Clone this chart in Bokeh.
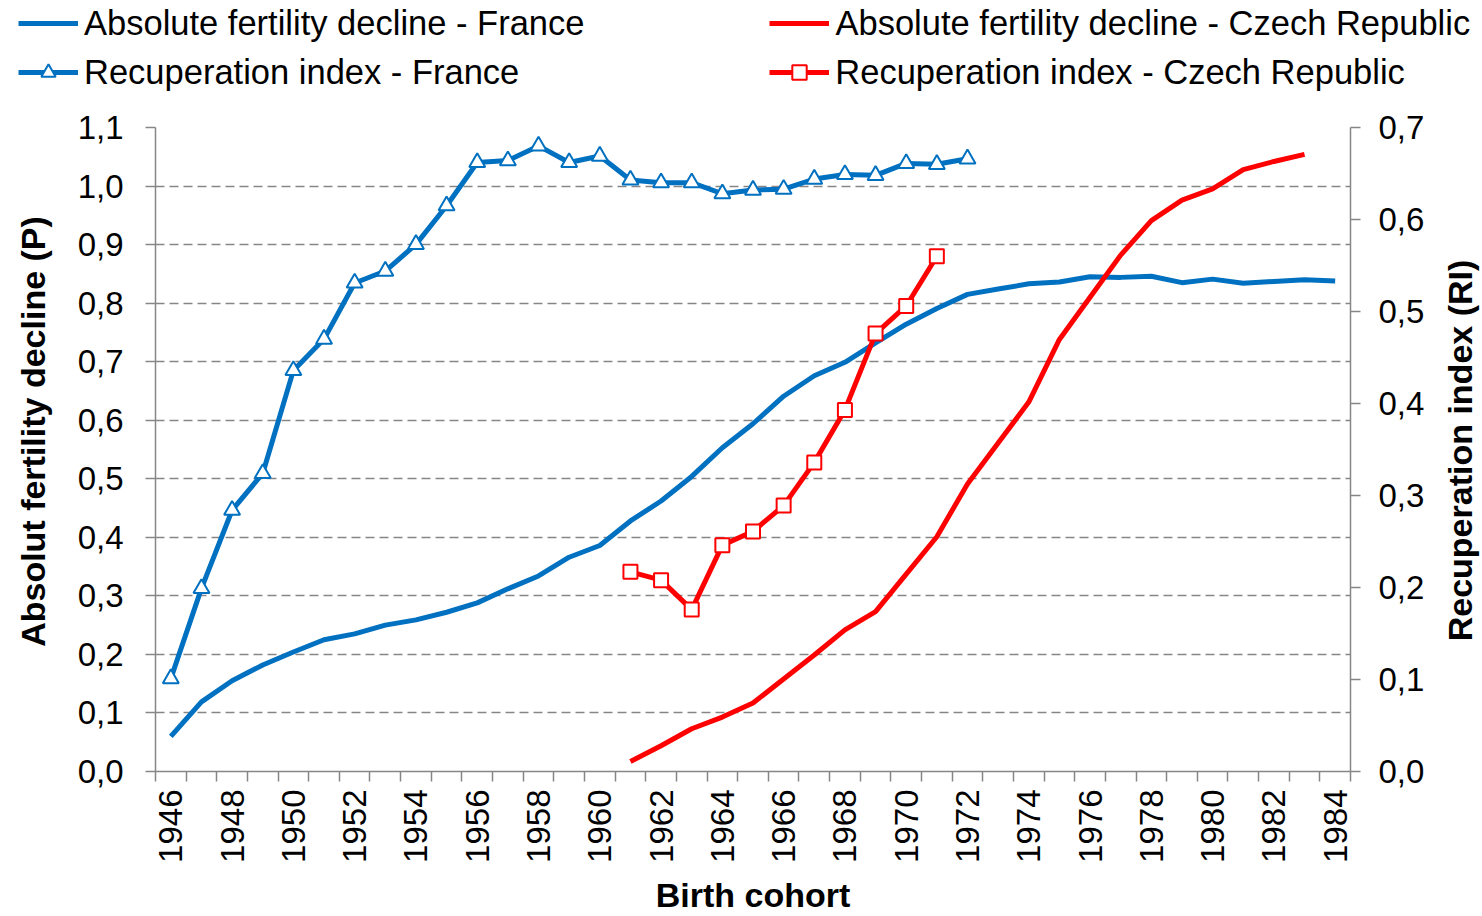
import math
from bokeh.plotting import figure
from bokeh.layouts import column, row
from bokeh.models import (Range1d, LinearAxis, FixedTicker, CustomJSTickFormatter,
                          Legend, LegendItem, ColumnDataSource, Label)
from bokeh.embed import file_html
from bokeh.resources import INLINE

# ---------------- data ----------------
years_afd_fr = list(range(1946, 1985))
afd_fr = [0.060, 0.119, 0.155, 0.182, 0.204, 0.225, 0.235, 0.250, 0.259, 0.272,
          0.288, 0.312, 0.334, 0.366, 0.386, 0.428, 0.462, 0.504, 0.553, 0.594,
          0.641, 0.676, 0.699, 0.732, 0.764, 0.791, 0.815, 0.824, 0.833, 0.836,
          0.845, 0.844, 0.846, 0.835, 0.841, 0.834, 0.837, 0.840, 0.838]

years_afd_cz = list(range(1961, 1984))
afd_cz = [0.017, 0.044, 0.073, 0.093, 0.117, 0.158, 0.199, 0.242, 0.273, 0.337,
          0.401, 0.491, 0.561, 0.631, 0.738, 0.810, 0.882, 0.941, 0.976, 0.995,
          1.028, 1.042, 1.054]

years_ri_fr = list(range(1946, 1973))
ri_fr = [0.101, 0.199, 0.284, 0.324, 0.436, 0.470, 0.531, 0.544, 0.573, 0.615,
         0.662, 0.664, 0.680, 0.662, 0.669, 0.643, 0.640, 0.640, 0.628, 0.632,
         0.633, 0.644, 0.649, 0.648, 0.661, 0.660, 0.666]

years_ri_cz = list(range(1961, 1972))
ri_cz = [0.217, 0.208, 0.176, 0.246, 0.261, 0.289, 0.336, 0.393, 0.476, 0.506, 0.560]

x_labels = list(range(1946, 1985, 2))
left_ticks = [round(i * 0.1, 1) for i in range(12)]
right_ticks = [round(i * 0.1, 1) for i in range(8)]

names = ["Absolute fertility decline - France",
         "Absolute fertility decline - Czech Republic",
         "Recuperation index - France",
         "Recuperation index - Czech Republic"]
x_title = "Birth cohort"
left_title = "Absolut fertility decline (P)"
right_title = "Recuperation index (RI)"

# ---------------- style ----------------
FONT = "Liberation Sans"
BLUE = "#0070C0"
RED = "#FF0000"
GRAY = "#868686"
LEG_H = 107
MAIN_H = 916 - LEG_H
LSTRIP_W = 62
RSTRIP_W = 47
MAIN_W = 1482 - LSTRIP_W - RSTRIP_W

# ---------------- main chart ----------------
p = figure(width=MAIN_W, height=MAIN_H, output_backend="svg", toolbar_location=None,
           x_range=Range1d(1945.5, 1984.5), y_range=Range1d(0, 1.1),
           min_border_left=155 - LSTRIP_W, min_border_right=85, min_border_top=20,
           min_border_bottom=143)
p.extra_y_ranges = {"ri": Range1d(0, 0.7)}
p.outline_line_color = None
p.background_fill_color = "white"
p.border_fill_color = "white"
p.frame_align = False

comma_fmt = CustomJSTickFormatter(code="return tick.toFixed(1).replace('.', ',');")

# x axis
xa = p.xaxis[0]
xa.ticker = FixedTicker(ticks=x_labels, minor_ticks=[1945.5 + i for i in range(40)])
xa.major_tick_out = 0
xa.major_tick_in = 0
xa.minor_tick_out = 10
xa.minor_tick_in = 0
xa.minor_tick_line_color = GRAY
xa.minor_tick_line_width = 1.5
xa.axis_line_color = GRAY
xa.axis_line_width = 1.5
xa.major_label_orientation = math.pi / 2
xa.major_label_standoff = 8
xa.major_label_text_font = FONT
xa.major_label_text_font_size = "33px"
xa.major_label_text_color = "black"
xa.axis_label = x_title
xa.axis_label_text_font = FONT
xa.axis_label_text_font_size = "34px"
xa.axis_label_text_font_style = "bold"
xa.axis_label_text_color = "black"
xa.axis_label_standoff = 10

# left axis
ya = p.yaxis[0]
ya.ticker = FixedTicker(ticks=left_ticks)
ya.formatter = comma_fmt
ya.major_tick_out = 10
ya.major_tick_in = 0
ya.minor_tick_out = 0
ya.minor_tick_in = 0
ya.major_tick_line_color = GRAY
ya.major_tick_line_width = 1.5
ya.axis_line_color = GRAY
ya.axis_line_width = 1.5
ya.major_label_standoff = 22
ya.major_label_text_font = FONT
ya.major_label_text_font_size = "33px"
ya.major_label_text_color = "black"

# right axis (ticks and labels)
ra = LinearAxis(y_range_name="ri", ticker=FixedTicker(ticks=right_ticks), formatter=comma_fmt)
ra.major_tick_out = 10
ra.major_tick_in = 0
ra.minor_tick_out = 0
ra.minor_tick_in = 0
ra.major_tick_line_color = GRAY
ra.major_tick_line_width = 1.5
ra.axis_line_color = GRAY
ra.axis_line_width = 1.5
ra.major_label_standoff = 18
ra.major_label_text_font = FONT
ra.major_label_text_font_size = "33px"
ra.major_label_text_color = "black"
p.add_layout(ra, "right")

# grid
p.xgrid.visible = False
p.ygrid.ticker = FixedTicker(ticks=left_ticks)
p.ygrid.grid_line_color = GRAY
p.ygrid.grid_line_width = 1.5
p.ygrid.grid_line_dash = "9 5"

# ---------------- series ----------------
line_kw = dict(line_width=5, line_join="round")
tri_kw = dict(marker="triangle", size=16, fill_color="white", line_color=BLUE, line_width=2)
sq_kw = dict(marker="square", size=14, fill_color="white", line_color=RED, line_width=2)

src_afd_fr = ColumnDataSource(dict(x=years_afd_fr, y=afd_fr))
src_afd_cz = ColumnDataSource(dict(x=years_afd_cz, y=afd_cz))
src_ri_fr = ColumnDataSource(dict(x=years_ri_fr, y=ri_fr))
src_ri_cz = ColumnDataSource(dict(x=years_ri_cz, y=ri_cz))

p.line("x", "y", source=src_afd_fr, line_color=BLUE, **line_kw)
p.line("x", "y", source=src_afd_cz, line_color=RED, **line_kw)
p.line("x", "y", source=src_ri_fr, y_range_name="ri", line_color=BLUE, **line_kw)
p.scatter("x", "y", source=src_ri_fr, y_range_name="ri", **tri_kw)
p.line("x", "y", source=src_ri_cz, y_range_name="ri", line_color=RED, **line_kw)
p.scatter("x", "y", source=src_ri_cz, y_range_name="ri", **sq_kw)

# ---------------- side title strips ----------------
def title_strip(width, text, sx, page_y):
    s = figure(width=width, height=MAIN_H, output_backend="svg", toolbar_location=None,
               x_axis_type=None, y_axis_type=None, x_range=Range1d(0, 1), y_range=Range1d(0, 1),
               min_border=0)
    s.outline_line_color = None
    s.background_fill_color = "white"
    s.border_fill_color = "white"
    s.frame_align = False
    s.add_layout(Label(x=sx, y=MAIN_H - (page_y - LEG_H), x_units="screen", y_units="screen",
                       text=text, angle=math.pi / 2, text_align="center",
                       text_baseline="middle", text_font=FONT, text_font_size="34px",
                       text_font_style="bold", text_color="black"))
    return s

ls = title_strip(LSTRIP_W, left_title, 32, 431)
rs = title_strip(RSTRIP_W, right_title, 24, 450)

# ---------------- legend strip (own figure above the chart) ----------------
# The same series are attached here only as legend keys; this strip's ranges keep them out of view.
lf = figure(width=1482, height=LEG_H, output_backend="svg", toolbar_location=None,
            x_axis_type=None, y_axis_type=None, x_range=Range1d(0, 1), y_range=Range1d(10, 11),
            min_border=0)
lf.outline_line_color = None
lf.background_fill_color = "white"
lf.border_fill_color = "white"
lf.frame_align = False

g_afd_fr = lf.line("x", "y", source=src_afd_fr, line_color=BLUE, **line_kw)
g_afd_cz = lf.line("x", "y", source=src_afd_cz, line_color=RED, **line_kw)
g_ri_fr_l = lf.line("x", "y", source=src_ri_fr, line_color=BLUE, **line_kw)
g_ri_fr_m = lf.scatter("x", "y", source=src_ri_fr, **tri_kw)
g_ri_cz_l = lf.line("x", "y", source=src_ri_cz, line_color=RED, **line_kw)
g_ri_cz_m = lf.scatter("x", "y", source=src_ri_cz, **sq_kw)

def make_legend(items, spacing, vy):
    lg = Legend(items=items, location=(18, vy), orientation="horizontal")
    lg.label_text_font = FONT
    lg.label_text_font_size = "34.5px"
    lg.label_text_color = "black"
    lg.glyph_width = 60
    lg.glyph_height = 36
    lg.label_height = 44
    lg.label_standoff = 6
    lg.spacing = spacing
    lg.padding = 0
    lg.margin = 0
    lg.border_line_color = None
    lg.background_fill_alpha = 0
    return lg

leg_row1 = make_legend([LegendItem(label=names[0], renderers=[g_afd_fr]),
                        LegendItem(label=names[1], renderers=[g_afd_cz])], 185, 62)
leg_row2 = make_legend([LegendItem(label=names[2], renderers=[g_ri_fr_l, g_ri_fr_m]),
                        LegendItem(label=names[3], renderers=[g_ri_cz_l, g_ri_cz_m])], 250, 13)
lf.add_layout(leg_row1, "center")
lf.add_layout(leg_row2, "center")

layout = column(lf, row(ls, p, rs, spacing=0), spacing=0)
open("out.html", "w").write(file_html(layout, INLINE))
